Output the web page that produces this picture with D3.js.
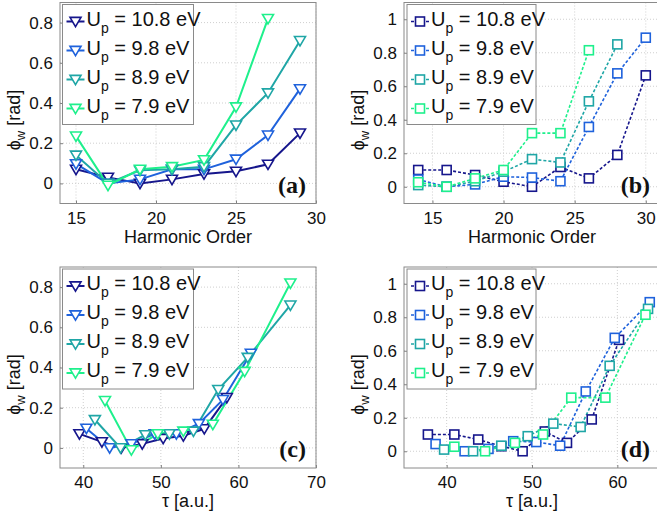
<!DOCTYPE html>
<html>
<head>
<meta charset="utf-8">
<script src="https://cdn.jsdelivr.net/npm/d3@7"></script>
<style>
  body { margin: 0; background: #fff; }
  svg { display: block; font-family: "Liberation Sans", Arial, sans-serif; }
</style>
</head>
<body>
<script>
// series labels and colours
var energies = ["10.8", "9.8", "8.9", "7.9"];
var colors = ["#16168c", "#1f62dc", "#1fa6a6", "#1ef08c"];

// harmonic orders
var harmOdd = [15, 17, 19, 21, 23, 25, 27, 29];
var harmEven = [14, 16, 18, 20, 22, 24, 26, 28, 30];

// phase values, solid (triangle) curves, panels (a) and (c)
var phiA108 = [0.07, 0.03, 0.0, 0.02, 0.047, 0.06, 0.095, 0.25];
var phiA98 = [0.097, 0.0, 0.02, 0.07, 0.07, 0.12, 0.24, 0.47];
var phiA89 = [0.14, 0.0, 0.065, 0.07, 0.083, 0.29, 0.45, 0.71];
var phiA79 = [0.235, -0.01, 0.07, 0.083, 0.117, 0.38, 0.82];

// phase values, dashed (square) curves, panels (b) and (d)
var phiB108 = [0.1, 0.1, 0.07, 0.03, 0.0, 0.118, 0.05, 0.19, 0.665];
var phiB98 = [0.043, 0.0, 0.014, 0.06, 0.055, 0.033, 0.357, 0.677, 0.89];
var phiB89 = [0.01, 0.0, 0.033, 0.09, 0.165, 0.145, 0.51, 0.85];
var phiB79 = [0.027, 0.0, 0.05, 0.1, 0.32, 0.32, 0.815];

// tau values for panel (c)
var tauC108 = [39.5, 42.4, 44.9, 47.6, 50.3, 52.9, 55.6, 58.5];
var tauC98 = [40.4, 43.4, 46.2, 49.2, 52.0, 54.9, 58.0, 61.6];
var tauC89 = [41.5, 44.8, 48.0, 51.1, 54.2, 57.4, 61.2, 66.7];
var tauC79 = [42.8, 46.2, 49.6, 52.9, 56.7, 60.8, 66.7];

// tau values for panel (d)
var tauD108 = [37.8, 40.9, 43.7, 46.4, 48.9, 51.5, 54.1, 57.0, 60.2];
var tauD98 = [38.7, 42.1, 44.9, 47.8, 50.5, 53.3, 56.3, 59.7, 63.8];
var tauD89 = [39.7, 43.1, 46.4, 49.5, 52.5, 55.7, 59.1, 63.6];
var tauD79 = [40.9, 44.5, 48.0, 51.3, 54.6, 58.6, 63.3];

// tick values
var yTicksShort = [0, 0.2, 0.4, 0.6, 0.8];
var yTicksLong = [0, 0.2, 0.4, 0.6, 0.8, 1];
var xTicksA = [15, 20, 25, 30];
var xTicksC = [40, 50, 60, 70];
var xTicksD = [40, 50, 60];

function zip(xs, ys) {
  return ys.map(function(v, i) { return {x: xs[i], y: v}; });
}

var svg = d3.select("body").append("svg")
    .attr("width", 657)
    .attr("height", 515);

var panels = [
  {left: 60, top: 2.5, xDom: [14, 30], yDom: [-0.1, 0.9], xTicks: xTicksA, yTicks: yTicksShort,
   xLabel: "Harmonic Order", tag: "(a)", dashed: false,
   series: [zip(harmOdd, phiA108), zip(harmOdd, phiA98), zip(harmOdd, phiA89), zip(harmOdd, phiA79)]},
  {left: 404, top: 2.5, xDom: [13, 31], yDom: [-0.1, 1.1], xTicks: xTicksA, yTicks: yTicksLong,
   xLabel: "Harmonic Order", tag: "(b)", dashed: true,
   series: [zip(harmEven, phiB108), zip(harmEven, phiB98), zip(harmEven, phiB89), zip(harmEven, phiB79)]},
  {left: 60, top: 267, xDom: [37, 70], yDom: [-0.1, 0.9], xTicks: xTicksC, yTicks: yTicksShort,
   xLabel: "\u03c4 [a.u.]", tag: "(c)", dashed: false,
   series: [zip(tauC108, phiA108), zip(tauC98, phiA98), zip(tauC89, phiA89), zip(tauC79, phiA79)]},
  {left: 404, top: 267, xDom: [35, 65], yDom: [-0.1, 1.1], xTicks: xTicksD, yTicks: yTicksLong,
   xLabel: "\u03c4 [a.u.]", tag: "(d)", dashed: true,
   series: [zip(tauD108, phiB108), zip(tauD98, phiB98), zip(tauD89, phiB89), zip(tauD79, phiB79)]}
];

var pw = 256, ph = 201;

panels.forEach(function(p) {
  var g = svg.append("g").attr("transform", "translate(" + p.left + "," + p.top + ")");
  var x = d3.scaleLinear().domain(p.xDom).range([0, pw]);
  var y = d3.scaleLinear().domain(p.yDom).range([ph, 0]);

  // grid
  g.selectAll(".gx").data(p.xTicks).enter().append("line")
    .attr("x1", function(d) { return x(d); }).attr("x2", function(d) { return x(d); })
    .attr("y1", 0).attr("y2", ph)
    .attr("stroke", "#cfcfcf").attr("stroke-width", 1).attr("stroke-dasharray", "1,2");
  g.selectAll(".gy").data(p.yTicks).enter().append("line")
    .attr("y1", function(d) { return y(d); }).attr("y2", function(d) { return y(d); })
    .attr("x1", 0).attr("x2", pw)
    .attr("stroke", "#cfcfcf").attr("stroke-width", 1).attr("stroke-dasharray", "1,2");

  // axes
  var xa = g.append("g").attr("transform", "translate(0," + ph + ")")
    .call(d3.axisBottom(x).tickValues(p.xTicks).tickSizeInner(-3).tickSizeOuter(0).tickPadding(8));
  var ya = g.append("g")
    .call(d3.axisLeft(y).tickValues(p.yTicks).tickSizeInner(-3).tickSizeOuter(0).tickPadding(7)
      .tickFormat(function(d) { return d === 0 ? "0" : d3.format("")(+d.toFixed(1)); }));
  [xa, ya].forEach(function(a) {
    a.select(".domain").remove();
    a.selectAll("line").attr("stroke", "#808080");
    a.selectAll("text").attr("font-size", 17).attr("fill", "#111")
      .attr("font-family", "Liberation Sans, Arial, sans-serif");
  });

  // box
  g.append("rect").attr("width", pw).attr("height", ph)
    .attr("fill", "none").attr("stroke", "#8a8a8a").attr("stroke-width", 1);

  // lines and markers
  var line = d3.line().x(function(d) { return x(d.x); }).y(function(d) { return y(d.y); });
  p.series.forEach(function(s, i) {
    g.append("path").datum(s)
      .attr("d", line)
      .attr("fill", "none")
      .attr("stroke", colors[i])
      .attr("stroke-width", p.dashed ? 1.6 : 2)
      .attr("stroke-dasharray", p.dashed ? "3,2" : null);
  });
  p.series.forEach(function(s, i) {
    drawMarkers(g, s.map(function(d) { return [x(d.x), y(d.y)]; }), colors[i], p.dashed);
  });

  // legend
  var lg = g.append("g").attr("transform", "translate(" + (p.dashed ? 3 : 2.5) + ",2)");
  lg.append("rect").attr("width", p.dashed ? 129 : 131).attr("height", 120)
    .attr("fill", "#fff").attr("stroke", "#8a8a8a");
  energies.forEach(function(e, i) {
    var ry = 17 + i * 29;
    lg.append("line").attr("x1", 4).attr("x2", 22).attr("y1", ry).attr("y2", ry)
      .attr("stroke", colors[i]).attr("stroke-width", p.dashed ? 1.6 : 2)
      .attr("stroke-dasharray", p.dashed ? "3,2" : null);
    drawMarkers(lg, [[13, ry]], colors[i], p.dashed);
    var t = lg.append("text").attr("x", 24).attr("y", ry + 4)
      .attr("font-size", 20).attr("fill", "#111");
    t.append("tspan").text("U");
    t.append("tspan").attr("font-size", 14).attr("dy", 7).text("p");
    t.append("tspan").attr("dy", -7).text(" = " + e + " eV");
  });

  // panel tag
  g.append("text").attr("x", pw - 10).attr("y", ph - 11)
    .attr("text-anchor", "end")
    .attr("font-family", "Liberation Serif, DejaVu Serif, serif")
    .attr("font-weight", "bold").attr("font-size", 24).attr("fill", "#111")
    .text(p.tag);

  // axis labels
  g.append("text").attr("x", pw / 2).attr("y", ph + 39)
    .attr("text-anchor", "middle").attr("font-size", 18).attr("fill", "#111")
    .text(p.xLabel);
  var yl = g.append("text")
    .attr("transform", "translate(-40," + (ph / 2 + 17) + ") rotate(-90)")
    .attr("text-anchor", "middle").attr("font-size", 18).attr("fill", "#111");
  yl.append("tspan").text("\u03d5");
  yl.append("tspan").attr("font-size", 13).attr("dy", 5).text("w");
  yl.append("tspan").attr("dy", -5).text(" [rad]");
});

function drawMarkers(g, pts, color, square) {
  pts.forEach(function(pt) {
    if (square) {
      g.append("rect").attr("x", pt[0] - 4.5).attr("y", pt[1] - 4.5)
        .attr("width", 9).attr("height", 9)
        .attr("fill", "#fff").attr("stroke", color).attr("stroke-width", 1.6);
    } else {
      var s = 5.5;
      g.append("path")
        .attr("d", "M" + (pt[0] - s) + "," + (pt[1] - s * 0.75) + "L" + (pt[0] + s) + "," + (pt[1] - s * 0.75) +
          "L" + pt[0] + "," + (pt[1] + s * 0.95) + "Z")
        .attr("fill", "#fff").attr("stroke", color).attr("stroke-width", 1.6);
    }
  });
}
</script>
</body>
</html>
